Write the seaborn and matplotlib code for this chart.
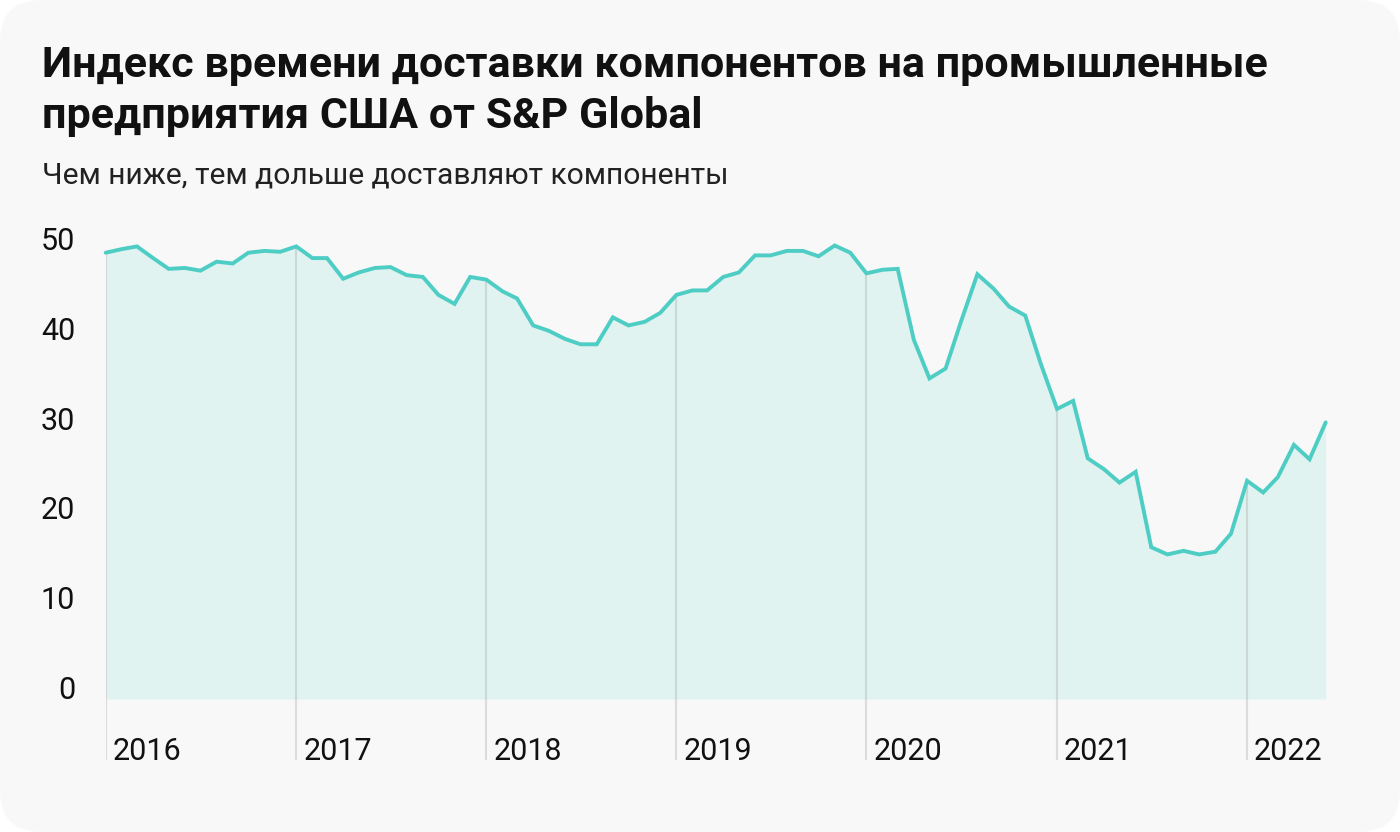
import numpy as np
import pandas as pd
import matplotlib
matplotlib.use("Agg")
import matplotlib.pyplot as plt
import matplotlib.transforms as mtransforms
from matplotlib.patches import FancyBboxPatch
import seaborn as sns

# ---------------- data ----------------
start_month = "2016-01-01"
index_values = [
    49.7, 50.1, 50.4, 49.1, 47.9, 48.0, 47.7, 48.7, 48.5, 49.7, 49.9, 49.8,   # 2016
    50.4, 49.1, 49.1, 46.8, 47.5, 48.0, 48.1, 47.2, 47.0, 45.0, 44.0, 47.0,   # 2017
    46.7, 45.4, 44.6, 41.6, 41.0, 40.1, 39.5, 39.5, 42.5, 41.6, 42.0, 43.0,   # 2018
    45.0, 45.5, 45.5, 47.0, 47.5, 49.4, 49.4, 49.9, 49.9, 49.3, 50.5, 49.7,   # 2019
    47.4, 47.8, 47.9, 40.0, 35.7, 36.8, 42.1, 47.3, 45.7, 43.7, 42.7, 37.3,   # 2020
    32.3, 33.2, 26.8, 25.6, 24.1, 25.3, 16.9, 16.1, 16.5, 16.1, 16.4, 18.4,   # 2021
    24.3, 23.0, 24.7, 28.3, 26.7, 30.8,                                       # 2022
]
year_labels = ["2016", "2017", "2018", "2019", "2020", "2021", "2022"]
y_ticks = [0, 10, 20, 30, 40, 50]
y_tick_labels = ["0", "10", "20", "30", "40", "50"]

title_lines = ["Индекс времени доставки компонентов на промышленные",
               "предприятия США от S&P Global"]
subtitle = "Чем ниже, тем дольше доставляют компоненты"

dates = pd.date_range(start_month, periods=len(index_values), freq="MS")
df = pd.DataFrame({"date": dates, "value": index_values})

# ---------------- style ----------------
sns.set_theme(style="white")
plt.rcParams["font.family"] = ["Roboto", "DejaVu Sans"]

LINE = "#4ecdc4"
FILL = "#e0f3f0"
BG = "#f8f8f8"

W, H = 1400, 832
fig = plt.figure(figsize=(W / 100, H / 100), dpi=100)
fig.patch.set_facecolor("white")
bg = FancyBboxPatch((0, 0), 1, 1, boxstyle="round,pad=0,rounding_size=0.03",
                    transform=fig.transFigure, facecolor=BG, edgecolor="none",
                    mutation_aspect=W / H, zorder=-10)
fig.patches.append(bg)

y_bottom, y_top = -6.8, 55.0
px_per_unit = 8.98
ax_left, ax_right = 105.7, 1325.7
ax_bot_px = 699 - y_bottom * px_per_unit
ax_top_px = 699 - y_top * px_per_unit
ax = fig.add_axes([ax_left / W, 1 - ax_bot_px / H,
                   (ax_right - ax_left) / W, (ax_bot_px - ax_top_px) / H])
ax.set_facecolor("none")

ax.fill_between(df["date"], 0, df["value"], color=FILL, linewidth=0, zorder=1)

year_dates = [pd.Timestamp(f"{y}-01-01") for y in year_labels]
year_vals = df.set_index("date").loc[year_dates, "value"].values
ax.vlines(year_dates, y_bottom, year_vals, color="#a8a8a8", alpha=0.35,
          linewidth=1.5, zorder=2)

sns.lineplot(data=df, x="date", y="value", ax=ax, color=LINE, linewidth=2.8,
             zorder=3)
for ln in ax.lines:
    ln.set_clip_on(False)
    ln.set_solid_joinstyle("miter")

ax.set_xlim(dates[0], dates[-1])
ax.set_ylim(y_bottom, y_top)
ax.set_xlabel("")
ax.set_ylabel("")
ax.set_xticks([])
ax.set_yticks(y_ticks)
ax.set_yticklabels(y_tick_labels)
ax.tick_params(axis="y", length=0, pad=22, labelsize=22, labelcolor="#111111")
for t in ax.get_yticklabels():
    t.set_va("baseline")
for s in ax.spines.values():
    s.set_visible(False)

off = mtransforms.offset_copy(ax.transData, fig=fig, x=7, y=0, units="dots")
for d, lab in zip(year_dates, year_labels):
    ax.text(d, y_bottom, lab, transform=off, ha="left", va="baseline",
            fontsize=22, color="#111111")

fig.text(42 / W, 1 - 77 / H, title_lines[0], fontsize=31, fontweight="bold",
         color="#111111", va="baseline", ha="left")
fig.text(42 / W, 1 - 128 / H, title_lines[1], fontsize=31, fontweight="bold",
         color="#111111", va="baseline", ha="left")
fig.text(42 / W, 1 - 183 / H, subtitle, fontsize=21.6, color="#222222",
         va="baseline", ha="left")

fig.savefig("out.png", dpi=100, facecolor=fig.get_facecolor())
